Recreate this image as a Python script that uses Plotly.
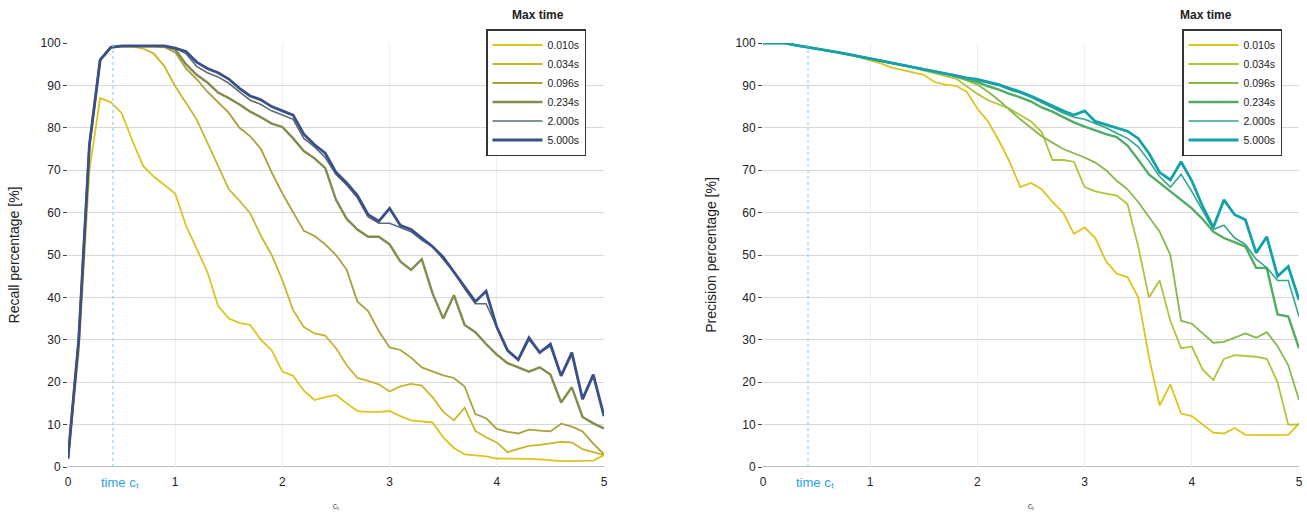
import numpy as np
import plotly.graph_objects as go

x_vals = [round(i * 0.1, 1) for i in range(51)]
series_names = ["0.010s", "0.034s", "0.096s", "0.234s", "2.000s", "5.000s"]

rec_0010 = [2, 27, 70, 87, 86, 83.5, 77, 71, 68.5, 66.5, 64.5, 57, 51.5, 46, 38, 35, 34, 33.5, 30, 27.5,
            22.5, 21.5, 18, 15.8, 16.5, 17, 15, 13.2, 13, 13, 13.2, 12, 11, 10.8, 10.5, 7, 4.5, 3, 2.8, 2.5,
            2, 2, 2, 1.9, 1.8, 1.6, 1.4, 1.4, 1.4, 1.5, 2.8]
rec_0034 = [2, 30, 76, 96, 99, 99.2, 99.2, 98.7, 97.5, 94.5, 89.8, 86, 82, 76.5, 71, 65.5, 62.8, 59.8, 54.5, 50,
            44, 37, 33, 31.5, 31, 28, 24, 21, 20.3, 19.5, 17.8, 19, 19.6, 19.2, 16.5, 13, 11, 14, 8.5, 7,
            5.8, 3.5, 4.3, 5, 5.2, 5.6, 5.9, 5.8, 4.2, 3.5, 2.8]
rec_0096 = [2, 30, 76, 96, 99, 99.2, 99.2, 99.2, 99.2, 99, 97.8, 94, 91.5, 88.5, 86, 83.5, 80, 78, 75, 69.5,
            64.5, 60, 55.7, 54.5, 52.5, 50, 46.5, 39, 36.8, 32, 28.2, 27.6, 25.8, 23.5, 22.5, 21.6, 21, 19, 12.5, 11.5,
            9, 8.3, 7.9, 8.8, 8.6, 8.4, 10.2, 9.5, 8.4, 5.5, 3]
rec_0234 = [2, 30, 76, 96, 99, 99.2, 99.2, 99.2, 99.2, 99.2, 98.5, 95, 92.5, 90.7, 88.3, 87, 85.5, 83.8, 82.5, 81,
            80.2, 77.5, 74.5, 72.8, 70.5, 63, 58.5, 56, 54.3, 54.3, 52.5, 48.5, 46.5, 49, 41, 35, 40.5, 33.5, 31.8, 29,
            26.5, 24.5, 23.5, 22.5, 23.5, 21.8, 15.2, 18.8, 11.8, 10.3, 9.1]
rec_2000 = [2, 30, 76, 96, 99, 99.3, 99.3, 99.3, 99.3, 99.3, 98.8, 97.5, 94.5, 93, 92, 90.5, 88.5, 86.5, 85.5, 84,
            83, 82, 77.5, 75.5, 73, 69, 66.5, 63.5, 59, 57.5, 57.5, 56.5, 55.5, 53.5, 52, 49, 46, 42, 38.5, 38.5,
            33, 27.5, 25.3, 30, 27, 28.5, 21.5, 26.5, 16, 21.5, 12]
rec_5000 = [2, 30, 76, 96, 99, 99.3, 99.3, 99.3, 99.3, 99.3, 98.8, 98, 95.5, 94, 93, 91.5, 89.3, 87.5, 86.6, 85,
            84, 83, 78.5, 76, 74, 69.5, 67, 64, 59.5, 58, 61, 57, 56, 54, 52, 49.5, 46, 42.5, 39, 41.5,
            33, 27.5, 25.3, 30.5, 27, 29, 21.5, 27, 16, 21.8, 12]

prec_0010 = [100, 100, 100, 99.5, 99.1, 98.7, 98.2, 97.8, 97.3, 96.6, 96, 95.2, 94.2, 93.6, 93, 92.5, 90.8, 90.2, 89.9, 88.5,
             84.5, 81.5, 77, 72, 66, 67, 65.5, 62.5, 60, 55, 56.5, 54, 48.5, 45.6, 44.8, 40, 26, 14.5, 19.5, 12.6,
             12, 10, 8.1, 7.9, 9.2, 7.6, 7.5, 7.5, 7.5, 7.6, 10.3]
prec_0034 = [100, 100, 100, 99.5, 99.1, 98.7, 98.2, 97.8, 97.3, 96.8, 96.3, 95.8, 95.3, 94.8, 94.2, 93.5, 92.9, 92.3, 91.6, 89.8,
             88, 86.5, 85.5, 84.5, 83, 81.5, 79, 72.4, 72.4, 72, 66, 65, 64.5, 64, 62, 52, 40, 44, 34.5, 28,
             28.4, 23, 20.5, 25.5, 26.4, 26.2, 26, 25.5, 20, 10, 10]
prec_0096 = [100, 100, 100, 99.5, 99.1, 98.7, 98.2, 97.8, 97.3, 96.8, 96.3, 95.8, 95.3, 94.8, 94.2, 93.8, 93.2, 92.8, 92, 91.2,
             90.2, 88.5, 86.5, 84.2, 82, 80, 78, 76.5, 75, 74, 73, 71.8, 70, 67.5, 65.5, 62.5, 59, 55.5, 50, 34.5,
             33.8, 31.5, 29.3, 29.5, 30.5, 31.5, 30.5, 31.8, 28.5, 24, 15.8]
prec_0234 = [100, 100, 100, 99.5, 99.1, 98.7, 98.2, 97.8, 97.3, 96.8, 96.3, 95.8, 95.3, 94.8, 94.2, 93.8, 93.2, 92.8, 92.3, 91.5,
             90.8, 89.8, 89, 88, 87.2, 86.2, 84.8, 83.8, 82.5, 81.3, 80.3, 79.4, 78.5, 77.8, 75.8, 72.5, 69, 67, 65, 63,
             61, 58.5, 55.5, 54, 53, 52, 47, 46.9, 36, 35.5, 28]
prec_2000 = [100, 100, 100, 99.5, 99.1, 98.7, 98.2, 97.8, 97.3, 96.8, 96.3, 95.8, 95.3, 94.8, 94.2, 93.8, 93.2, 92.8, 92.3, 91.8,
             91.2, 90.6, 90, 89, 88.2, 87.2, 86, 84.8, 83.5, 82.5, 82, 81, 80, 78.7, 77.5, 75.5, 72.2, 68.5, 66, 69,
             65, 60.5, 56, 57, 54, 52.5, 49, 47, 44, 44, 35.5]
prec_5000 = [100, 100, 100, 99.5, 99.1, 98.7, 98.2, 97.8, 97.3, 96.8, 96.3, 95.8, 95.3, 94.8, 94.2, 93.8, 93.2, 92.8, 92.3, 91.8,
             91.4, 90.8, 90.2, 89.3, 88.5, 87.5, 86.3, 85.2, 84, 83, 84, 81.5, 80.7, 80, 79.2, 77.5, 74, 69.5, 67.7, 72,
             67.5, 61.5, 56.5, 63, 59.5, 58.3, 50.5, 54.3, 45, 47.3, 39.4]

tau_min = 0.42
x_ticks = [0, 1, 2, 3, 4, 5]
y_ticks = [0, 10, 20, 30, 40, 50, 60, 70, 80, 90, 100]

recall = [rec_0010, rec_0034, rec_0096, rec_0234, rec_2000, rec_5000]
precision = [prec_0010, prec_0034, prec_0096, prec_0234, prec_2000, prec_5000]

left_colors = ["#dcc51e", "#c9b62c", "#a9a13c", "#858a4e", "#5d6c72", "#3b5089"]
right_colors = ["#dcc51e", "#b3c23a", "#86b94a", "#52ab62", "#2fa78a", "#13a2aa"]
widths = [1.8, 1.8, 1.8, 2.4, 1.6, 2.8]

FONT = "Liberation Sans, Arial, sans-serif"
W, H = 1307, 516

fig = go.Figure()
for i, name in enumerate(series_names):
    fig.add_trace(go.Scatter(x=x_vals, y=recall[i], mode="lines", name=name,
                             line=dict(color=left_colors[i], width=widths[i]),
                             xaxis="x", yaxis="y", legend="legend"))
for i, name in enumerate(series_names):
    fig.add_trace(go.Scatter(x=x_vals, y=precision[i], mode="lines", name=name,
                             line=dict(color=right_colors[i], width=widths[i]),
                             xaxis="x2", yaxis="y2", legend="legend2"))

def px_x(p):
    return p / W

def px_y(p):
    return 1 - p / H

ydom = [px_y(467), px_y(43)]
xaxis_common = dict(showgrid=True, gridcolor="#f0f0f0", gridwidth=1, zeroline=False,
                    ticks="", ticklabelstandoff=6, automargin=False,
                    tickfont=dict(size=12, color="#222", family=FONT), showline=False)
yaxis_common = dict(showgrid=True, gridcolor="#d8d8d8", gridwidth=1, zeroline=False,
                    ticks="outside", ticklen=4, tickcolor="#444", automargin=False,
                    tickfont=dict(size=12, color="#222", family=FONT), showline=False)

legend_common = dict(yanchor="top", xanchor="left", bgcolor="white", bordercolor="#333", borderwidth=1.5,
                     font=dict(size=10.5, family=FONT, color="#222"), tracegroupgap=0, itemwidth=50)

fig.update_layout(
    width=W, height=H, autosize=False,
    margin=dict(l=0, r=0, t=0, b=0, pad=0, autoexpand=False),
    paper_bgcolor="white", plot_bgcolor="white",
    font=dict(family=FONT, color="#222"),
    xaxis=dict(domain=[px_x(68), px_x(604)], range=[0, 5], tickvals=x_ticks, anchor="y",
               title=dict(text="cₜ", font=dict(size=9, color="#555"), standoff=14), **xaxis_common),
    yaxis=dict(domain=ydom, range=[0, 100], tickvals=y_ticks, anchor="x",
               title=dict(text="Recall percentage [%]", font=dict(size=14, color="#222"), standoff=17), **yaxis_common),
    xaxis2=dict(domain=[px_x(763), px_x(1299)], range=[0, 5], tickvals=x_ticks, anchor="y2",
                title=dict(text="cₜ", font=dict(size=9, color="#555"), standoff=14), **xaxis_common),
    yaxis2=dict(domain=ydom, range=[0, 100], tickvals=y_ticks, anchor="x2",
                title=dict(text="Precision percentage [%]", font=dict(size=14, color="#222"), standoff=15), **yaxis_common),
    legend=dict(x=px_x(486), y=px_y(29), **legend_common),
    legend2=dict(x=px_x(1182), y=px_y(29), **legend_common),
    showlegend=True,
)

for xa, ya in [("x", "y"), ("x2", "y2")]:
    fig.add_shape(type="line", xref=xa, yref=ya, x0=0, x1=5, y0=0, y1=0,
                  line=dict(color="#bbbbbb", width=2), layer="below")
    fig.add_shape(type="line", xref=xa, yref=ya, x0=tau_min, x1=tau_min, y0=0, y1=100,
                  line=dict(color="#8fd3f5", width=1.2, dash="dot"))
    fig.add_annotation(xref=xa, yref="paper", x=tau_min, y=px_y(492), xshift=7, text="time cₜ",
                       showarrow=False, font=dict(size=13, color="#2a9fe6", family=FONT))

for xc in [px_x(538), px_x(1234)]:
    fig.add_annotation(xref="paper", yref="paper", x=xc, y=px_y(15), yanchor="middle", text="<b>Max time</b>",
                       showarrow=False, font=dict(size=12, color="#222", family=FONT))

fig.write_html("out.html",
               post_script="document.body.style.margin='0';document.body.style.overflow='hidden';")
